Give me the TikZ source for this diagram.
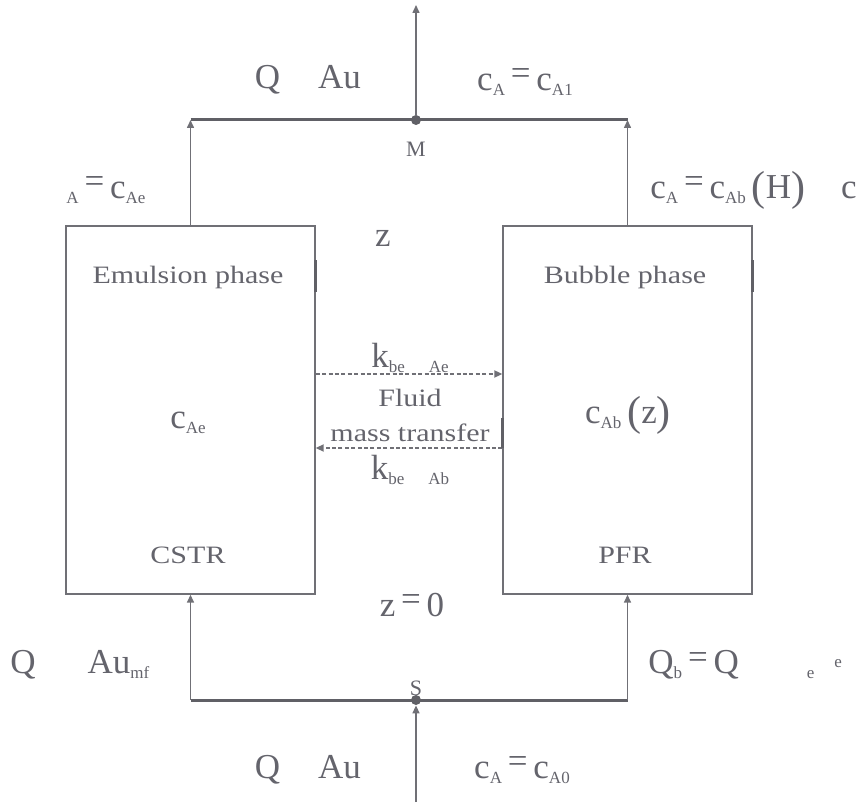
\documentclass[tikz,border=0pt]{standalone}
\usepackage{fontspec}
\setmainfont{Liberation Serif}
\newfontfamily\widefont[FakeStretch=1.2]{Liberation Serif}
\usetikzlibrary{arrows.meta, positioning}
\definecolor{txtgray}{RGB}{100,100,108}
\definecolor{linegray}{RGB}{112,112,118}
\definecolor{darkline}{RGB}{96,96,102}
\newcommand{\sub}[1]{\raisebox{-0.3ex}{\fontsize{8.5}{8.5}\selectfont #1}}
\newcommand{\eqs}{\raisebox{0.35ex}{=}}
\newcommand{\bigpar}[1]{\raisebox{-0.1ex}{\fontsize{21}{21}\selectfont #1}}

\begin{document}
\begin{tikzpicture}[
  x=0.5pt, y=-0.5pt,
  phase/.style={rectangle, draw=linegray, line width=0.7pt, minimum width=124.5pt, minimum height=184pt, inner sep=0pt},
  mathlbl/.style={font=\fontsize{17.5}{20}\selectfont, text=txtgray, inner sep=0pt},
  plain/.style={font=\widefont\fontsize{12.5}{17.5}\selectfont, text=txtgray, align=center, inner sep=0pt},
  pointlbl/.style={font=\fontsize{11}{13}\selectfont, text=txtgray, inner sep=0pt},
  junction/.style={circle, fill=darkline, inner sep=0pt, minimum size=5pt},
  flow/.style={-{Triangle[length=4pt,width=3.5pt]}, draw=linegray, line width=0.75pt},
  transfer/.style={flow, dash pattern=on 2pt off 1.2pt, line width=1pt},
  header/.style={draw=darkline, line width=1.5pt},
  tick/.style={draw=darkline, line width=1.5pt}
]
\useasboundingbox (0,0) rectangle (867,807);

\node[phase] (emul) at (190.5,410) {};
\node[phase] (bubble) at (627.5,410) {};
\node[junction] (M) at (416,120) {};
\node[junction] (S) at (416,700) {};
\coordinate (outlet) at (416,5);
\coordinate (inlet) at (416,802);
\coordinate (fwd) at (0,374);
\coordinate (back) at (0,448);

% mixing and splitting headers
\draw[header] (emul.north |- M) -- (bubble.north |- M);
\draw[header] (emul.south |- S) -- (bubble.south |- S);

\draw[flow] (M) -- (outlet);
\draw[flow] (emul.north) -- (emul.north |- M);
\draw[flow] (bubble.north) -- (bubble.north |- M);
\draw[flow] (emul.south |- S) -- (emul.south);
\draw[flow] (bubble.south |- S) -- (bubble.south);
\draw[flow] (inlet) -- (S);

% exchange between the phases
\draw[transfer] (emul.east |- fwd) -- (bubble.west |- fwd);
\draw[transfer] (bubble.west |- back) -- (emul.east |- back);

\draw[tick] ([yshift=59pt]emul.east) -- ([yshift=75pt]emul.east);
\draw[tick] ([yshift=59pt]bubble.east) -- ([yshift=75pt]bubble.east);
\draw[tick] ([yshift=-4pt]bubble.west) -- ([yshift=-19pt]bubble.west);

\node[mathlbl] (qtop) at (308,80) {Q\hspace{19pt}Au};
\node[mathlbl] (ctop) at (525,82) {c\sub{A}\,\eqs\,c\sub{A1}};
\node[pointlbl] (mlbl) at (416,149) {M};
\node[mathlbl, anchor=west] (cleft) at (66,190) {\sub{A}\,\eqs\,c\sub{Ae}};
\node[mathlbl, anchor=west] (cright) at (650,190) {c\sub{A}\,\eqs\,c\sub{Ab}\,\bigpar{(}H\bigpar{)}\hspace{18pt}c};
\node[mathlbl] (ztop) at (383,238) {z};
\node[plain] (emullbl) at (188,277) {Emulsion phase};
\node[plain] (bubblbl) at (625,277) {Bubble phase};
\node[mathlbl] (kae) at (410,358) {k\sub{be}\hspace{12pt}\sub{Ae}};
\node[plain] (fluid) at (410,415) {Fluid\\mass transfer};
\node[mathlbl] (kab) at (410,470) {k\sub{be}\hspace{12pt}\sub{Ab}};
\node[mathlbl] (cae) at (188,423) {c\sub{Ae}};
\node[mathlbl] (cab) at (628,415) {c\sub{Ab}\,\bigpar{(}z\bigpar{)}};
\node[plain] (cstr) at (188,555) {CSTR};
\node[plain] (pfr) at (625,555) {PFR};
\node[mathlbl] (zbot) at (412,605) {z\,\eqs\,0};
\node[mathlbl, anchor=west] (qleft) at (10,665) {Q\hspace{26pt}Au\sub{mf}};
\node[pointlbl] (slbl) at (416,688) {S};
\node[mathlbl, anchor=west] (qright) at (648,665) {Q\sub{b}\,\eqs\,Q\hspace{34pt}\sub{e}\hspace{10pt}\raisebox{0.4ex}{\fontsize{8.5}{8.5}\selectfont e}};
\node[mathlbl] (qbot) at (308,770) {Q\hspace{19pt}Au};
\node[mathlbl] (cbot) at (522,770) {c\sub{A}\,\eqs\,c\sub{A0}};

\end{tikzpicture}
\end{document}
